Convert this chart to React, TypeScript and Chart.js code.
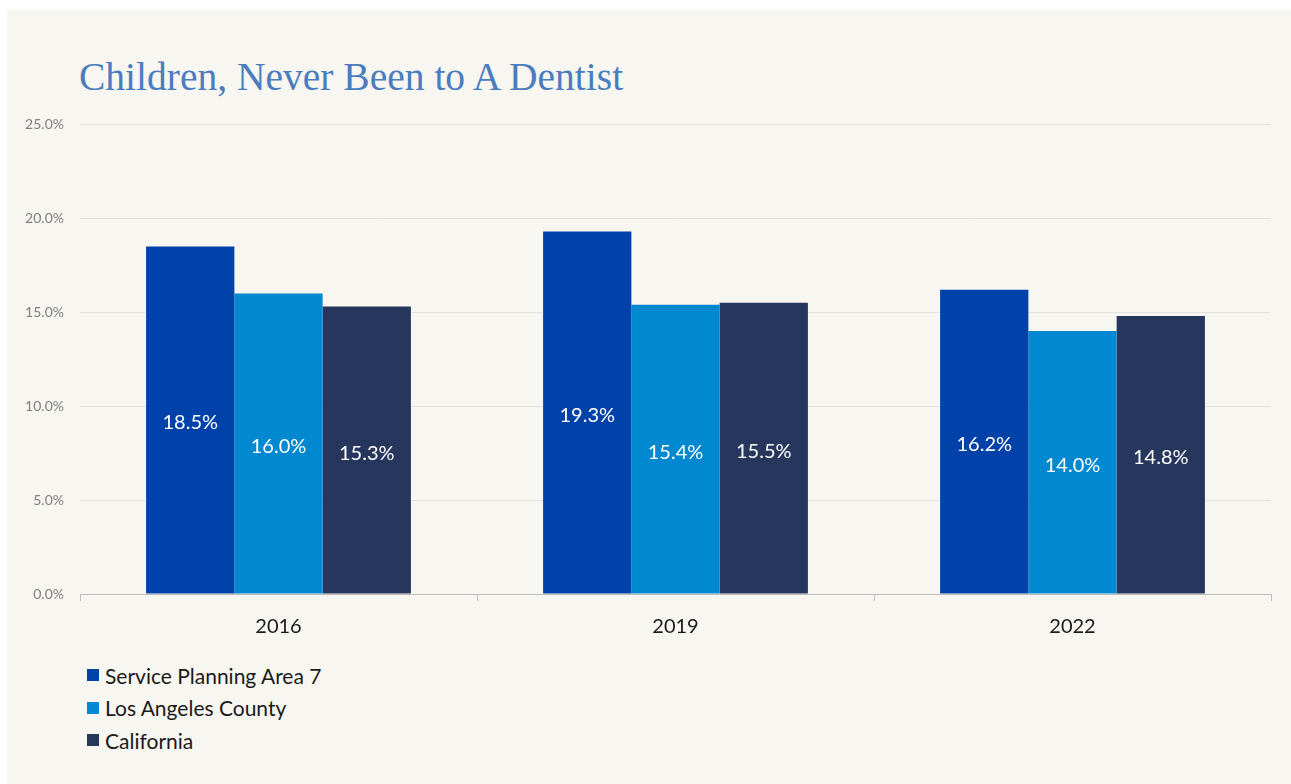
import React, { useEffect, useRef } from "react";
import { Chart, registerables } from "chart.js";

Chart.register(...registerables);

const titleText = "Children, Never Been to A Dentist";
const categories = ["2016", "2019", "2022"];
const seriesNames = ["Service Planning Area 7", "Los Angeles County", "California"];
const spa7Values = [18.5, 19.3, 16.2];
const laCountyValues = [16.0, 15.4, 14.0];
const californiaValues = [15.3, 15.5, 14.8];
const seriesColors = ["#0042a9", "#0089d1", "#27365d"];
const yTicks = [0, 5, 10, 15, 20, 25];

const FONT = "Lato, 'Open Sans', sans-serif";

const labelPlugin = {
  id: "barValueLabels",
  afterDatasetsDraw(chart: any) {
    const ctx = chart.ctx;
    ctx.save();
    ctx.fillStyle = "#ffffff";
    ctx.font = `20px ${FONT}`;
    ctx.textAlign = "center";
    ctx.textBaseline = "middle";
    chart.data.datasets.forEach((ds: any, i: number) => {
      const meta = chart.getDatasetMeta(i);
      meta.data.forEach((bar: any, j: number) => {
        const p = bar.getProps(["x", "y", "base"], true);
        ctx.fillText(Number(ds.data[j]).toFixed(1) + "%", p.x, (p.y + p.base) / 2 + 3);
      });
    });
    ctx.restore();
  },
};

export default function App() {
  const ref = useRef<HTMLCanvasElement | null>(null);

  useEffect(() => {
    if (!ref.current) return;
    const values = [spa7Values, laCountyValues, californiaValues];
    const chart = new Chart(ref.current, {
      type: "bar",
      data: {
        labels: categories,
        datasets: seriesNames.map((name, i) => ({
          label: name,
          data: values[i],
          backgroundColor: seriesColors[i],
          borderWidth: 0,
          categoryPercentage: 0.667,
          barPercentage: 1.0,
        })),
      },
      options: {
        animation: false,
        responsive: false,
        layout: { padding: { top: 3, right: 20, left: 0, bottom: 0 } },
        plugins: {
          legend: { display: false },
          title: { display: false },
          tooltip: { enabled: false },
        },
        scales: {
          x: {
            grid: {
              display: true,
              drawOnChartArea: false,
              drawTicks: true,
              tickLength: 7,
              color: "#bdbdbd",
              offset: true,
            },
            border: { display: true, color: "#bdbdbd", width: 1 },
            ticks: {
              color: "#1a1a1a",
              font: { family: FONT, size: 20 },
              padding: 14,
            },
            afterFit: (s: any) => {
              s.height = 56;
            },
          },
          y: {
            min: 0,
            max: 25,
            afterBuildTicks: (s: any) => {
              s.ticks = yTicks.map((v) => ({ value: v }));
            },
            grid: { color: "#e2e2e2", drawTicks: false, lineWidth: 1 },
            border: { display: false },
            ticks: {
              color: "#7f7f7f",
              font: { family: FONT, size: 14 },
              padding: 16,
              callback: (v: any) => Number(v).toFixed(1) + "%",
            },
            afterFit: (s: any) => {
              s.width = 73;
            },
          },
        },
      },
      plugins: [labelPlugin],
    });
    return () => chart.destroy();
  }, []);

  return (
    <div
      style={{
        position: "absolute",
        left: 7,
        top: 10,
        width: 1284,
        height: 774,
        background: "#f7f6f0",
        overflow: "hidden",
      }}
    >
      <div
        style={{
          position: "absolute",
          left: 72,
          top: 45,
          fontFamily: "'Liberation Serif', 'DejaVu Serif', serif",
          fontSize: 39.5,
          color: "#4a7cbf",
          whiteSpace: "nowrap",
          lineHeight: "44px",
        }}
      >
        {titleText}
      </div>
      <canvas
        ref={ref}
        width={1284}
        height={550}
        style={{ position: "absolute", left: 0, top: 90, width: 1284, height: 550 }}
      />
      <div style={{ position: "absolute", left: 80, top: 649 }}>
        {seriesNames.map((name, i) => (
          <div
            key={name}
            style={{
              display: "flex",
              alignItems: "center",
              height: 32.5,
              fontFamily: FONT,
              fontSize: 21,
              color: "#1a1a1a",
            }}
          >
            <span
              style={{
                display: "inline-block",
                width: 12,
                height: 12,
                background: seriesColors[i],
                marginRight: 6,
              }}
            />
            {name}
          </div>
        ))}
      </div>
    </div>
  );
}
